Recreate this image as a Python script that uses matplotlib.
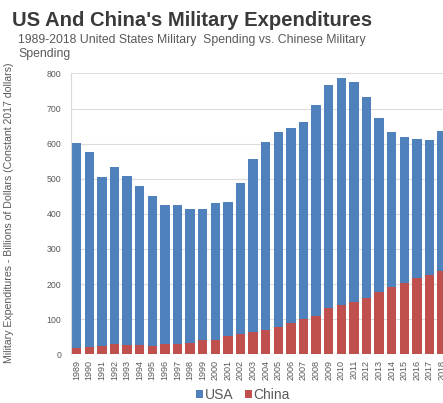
import numpy as np
import matplotlib
matplotlib.use('Agg')
import matplotlib.pyplot as plt

# 数据：1989-2018 美国和中国军费（十亿美元，2017年不变价）
years = [str(y) for y in range(1989, 2019)]
usa = [603, 577, 505, 534, 507, 479, 451, 426, 424, 413, 413, 431, 433, 489, 555,
       606, 634, 644, 661, 711, 766, 787, 777, 734, 674, 634, 620, 614, 609, 637]
china = [19, 21, 25, 28, 27, 26, 25, 28, 30, 31, 40, 42, 52, 59, 63,
         70, 79, 89, 100, 108, 132, 140, 149, 161, 178, 191, 203, 216, 226, 237]

plt.rcParams['font.family'] = ['Liberation Sans', 'DejaVu Sans']

fig = plt.figure(figsize=(4.43, 4.03), dpi=100)
ax = fig.add_axes([71 / 443, 0.1208, 1 - 71 / 443, 0.697])

x = np.arange(len(years))
ax.bar(x, usa, width=0.74, color='#4F81BD', label='USA', zorder=2)
ax.bar(x, china, width=0.74, color='#C0504D', label='China', zorder=3)

ax.set_ylim(0, 800)
ax.set_xlim(-0.45, 29.07)
ax.set_yticks(range(0, 801, 100))
ax.grid(axis='y', color='#dcdcdc', lw=0.8, zorder=0)
ax.set_xticks(x)
ax.set_xticklabels(years, rotation=90, fontsize=6.5, color='#595959')
ax.tick_params(axis='y', labelsize=6.3, labelcolor='#595959', length=0, pad=7)
ax.tick_params(axis='x', length=0, pad=4)
for s in ['top', 'right', 'bottom']:
    ax.spines[s].set_visible(False)
ax.spines['left'].set_color('#d9d9d9')

fig.text(0.01, 1 - 213 / 403, 'Military Expenditures - Billions of Dollars (Constant 2017 dollars)',
         rotation=90, va='center', ha='left', fontsize=7.6, color='#595959')

fig.text(12 / 443, 1 - 20 / 403, "US And China's Military Expenditures",
         fontsize=14.6, fontweight='bold', color='#3a3a3a', va='center')
fig.text(18 / 443, 1 - 47 / 403, '1989-2018 United States Military  Spending vs. Chinese Military\nSpending',
         fontsize=8.8, color='#595959', va='center', linespacing=1.2)

leg = fig.legend(loc='center', bbox_to_anchor=(243 / 443, 1 - 395 / 403), ncol=2, frameon=False,
                 fontsize=10, handlelength=0.5, handleheight=0.5, handletextpad=0.15,
                 columnspacing=0.8, labelcolor='#595959', borderpad=0.1)

plt.savefig('out.png', dpi=100)
